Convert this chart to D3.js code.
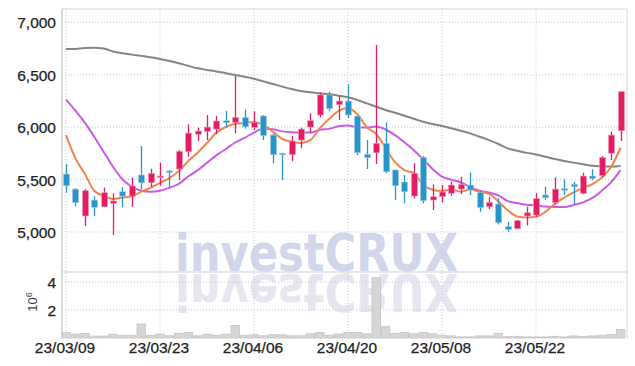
<!DOCTYPE html>
<html>
<head>
<meta charset="utf-8">
<script src="https://cdn.jsdelivr.net/npm/d3@7"></script>
<style>
  html, body { margin: 0; padding: 0; background: #fff; }
  svg { display: block; }
</style>
</head>
<body>
<svg id="chart" width="635" height="366"></svg>
<script>
const dates = ["23/03/09","23/03/10","23/03/13","23/03/14","23/03/15","23/03/16","23/03/17","23/03/20","23/03/21","23/03/22",
  "23/03/23","23/03/24","23/03/27","23/03/28","23/03/29","23/03/30","23/03/31","23/04/03","23/04/04","23/04/05",
  "23/04/06","23/04/07","23/04/10","23/04/11","23/04/12","23/04/13","23/04/14","23/04/17","23/04/18","23/04/19",
  "23/04/20","23/04/21","23/04/24","23/04/25","23/04/26","23/04/27","23/04/28","23/05/02","23/05/03","23/05/04",
  "23/05/08","23/05/09","23/05/10","23/05/11","23/05/12","23/05/15","23/05/16","23/05/17","23/05/18","23/05/19",
  "23/05/22","23/05/23","23/05/24","23/05/25","23/05/26","23/05/30","23/05/31","23/06/01","23/06/02","23/06/05"];
const openP = [5553,5410,5153,5305,5241,5272,5384,5343,5544,5470,5520,5582,5601,5766,5932,5957,5982,6062,6043,6094,
  5999,6106,5925,5751,5737,5877,6001,6116,6307,6214,6249,6106,5741,5756,5846,5592,5477,5343,5712,5305,
  5337,5369,5410,5448,5375,5241,5267,5051,5032,5153,5162,5353,5280,5413,5455,5369,5534,5537,5751,5966];
const highP = [5649,5417,5410,5343,5424,5369,5429,5518,5820,5604,5661,5591,5782,6027,5995,6116,6106,6154,6488,6170,
  6151,6116,5941,5756,5916,5995,6132,6332,6338,6294,6409,6106,5877,6784,6046,5592,5544,5655,5725,5455,
  5448,5480,5528,5566,5391,5337,5322,5098,5115,5241,5369,5432,5522,5503,5480,5566,5598,5725,5957,6345];
const lowP = [5375,5245,5057,5153,5236,4971,5238,5241,5407,5432,5442,5429,5496,5718,5868,5877,5932,5999,5941,5985,
  5973,5877,5655,5496,5677,5799,5947,6094,6151,6068,6087,5734,5601,5649,5560,5305,5274,5321,5274,5210,
  5283,5346,5363,5353,5194,5219,5073,5003,5026,5064,5146,5305,5267,5353,5267,5360,5496,5522,5687,5868];
const closeP = [5442,5280,5394,5236,5375,5296,5343,5439,5470,5560,5534,5572,5770,5944,5963,6001,6059,6043,6094,6004,
  6043,5919,5737,5737,5868,5982,6062,6307,6176,6249,6116,5756,5709,5846,5575,5442,5384,5560,5299,5337,
  5382,5448,5455,5401,5234,5283,5089,5026,5108,5184,5318,5327,5410,5401,5432,5534,5512,5712,5925,6338];
const maShort = [5925,5705,5555,5394,5345,5316,5329,5338,5385,5422,5469,5515,5581,5676,5757,5850,5947,6002,6032,6040,
  6049,6021,5959,5888,5861,5849,5877,5991,6079,6155,6182,6121,6001,5935,5800,5666,5591,5561,5452,5404,
  5392,5405,5384,5405,5384,5364,5292,5207,5148,5138,5145,5193,5269,5328,5378,5421,5458,5518,5623,5804];
const maMid = [6262,6157,6043,5909,5766,5623,5503,5432,5394,5384,5393,5422,5460,5530,5589,5660,5731,5792,5854,5898,
  5949,5984,5981,5960,5951,5949,5949,5975,5984,6008,6015,5999,5996,6007,5978,5924,5856,5781,5694,5602,
  5529,5498,5473,5428,5394,5378,5349,5295,5276,5261,5255,5243,5238,5238,5258,5283,5325,5394,5476,5591];
const maLong = [6745,6746,6755,6757,6750,6722,6705,6692,6680,6667,6651,6632,6610,6585,6562,6546,6532,6515,6498,6481,
  6462,6437,6412,6387,6364,6345,6332,6323,6313,6300,6285,6259,6227,6195,6164,6138,6109,6080,6052,6030,
  6011,5989,5966,5941,5909,5877,5840,5798,5775,5755,5740,5718,5696,5678,5662,5647,5633,5627,5624,5630];
const volumeM = [0.40,0.28,0.33,0.14,0.14,0.27,0.20,0.20,1.00,0.20,0.28,0.16,0.33,0.40,0.16,0.27,0.20,0.28,0.90,0.20,
  0.23,0.16,0.23,0.23,0.16,0.16,0.30,0.40,0.20,0.28,0.40,0.40,0.30,4.30,0.80,0.33,0.40,0.30,0.40,0.30,
  0.20,0.15,0.08,0.08,0.15,0.15,0.33,0.10,0.12,0.08,0.08,0.08,0.12,0.08,0.15,0.12,0.15,0.20,0.25,0.60];
const priceTicks = [5000,5500,6000,6500,7000];
const volumeTicks = [2,4];
const dateTicks = ["23/03/09","23/03/23","23/04/06","23/04/20","23/05/08","23/05/22"];

const svg = d3.select("#chart");
const L = 62, R = 627, T = 9, SPLIT = 272, B = 338;
const UP = "#e31c64", DOWN = "#2a93c9";
const GRID = "#c4c7dc";
const FONT = "'Liberation Sans Narrow', 'Liberation Sans', sans-serif";
const WMFONT = "'DejaVu Sans', Verdana, sans-serif";

const x = d3.scaleBand().domain(dates).range([61.3, 625.3]);
const step = x.step();
const cx = d => x(d) + step / 2;
const y = d3.scaleLinear().domain([4619, 7127]).range([SPLIT, T]);
const yv = d3.scaleLinear().domain([0, 4.714]).range([B, SPLIT]);

// watermark (with mirrored reflection)
const wm = svg.append("g");
wm.append("text").attr("x", 175).attr("y", 271)
  .attr("font-family", WMFONT).attr("font-weight", "bold")
  .attr("font-size", 51).attr("textLength", 283).attr("lengthAdjust", "spacingAndGlyphs")
  .attr("fill", "#d1d6ea").text("investCRUX");
wm.append("text").attr("x", 175).attr("y", -274)
  .attr("transform", "scale(1,-1)")
  .attr("font-family", WMFONT).attr("font-weight", "bold")
  .attr("font-size", 51).attr("textLength", 283).attr("lengthAdjust", "spacingAndGlyphs")
  .attr("fill", "#e5e6ef").text("investCRUX");

// grid lines
const grid = svg.append("g");
grid.selectAll("line.h").data(priceTicks).join("line")
  .attr("x1", L).attr("x2", R).attr("y1", d => y(d)).attr("y2", d => y(d))
  .attr("stroke", GRID).attr("stroke-dasharray", "1,2");
grid.selectAll("line.hv").data(volumeTicks).join("line")
  .attr("x1", L).attr("x2", R).attr("y1", d => yv(d)).attr("y2", d => yv(d))
  .attr("stroke", GRID).attr("stroke-dasharray", "1,2");
grid.selectAll("line.v").data(dateTicks).join("line")
  .attr("x1", d => cx(d)).attr("x2", d => cx(d)).attr("y1", T).attr("y2", B)
  .attr("stroke", GRID).attr("stroke-dasharray", "1,2");

// borders
svg.append("line").attr("x1", L).attr("x2", L).attr("y1", T).attr("y2", B).attr("stroke", "#cfcfcf").attr("stroke-width", 1.5);
svg.append("line").attr("x1", L).attr("x2", R).attr("y1", T).attr("y2", T).attr("stroke", "#d6d6d6");
svg.append("line").attr("x1", R).attr("x2", R).attr("y1", T).attr("y2", B).attr("stroke", "#d6d6d6");
svg.append("line").attr("x1", L).attr("x2", R).attr("y1", SPLIT).attr("y2", SPLIT).attr("stroke", "#cfcfcf");

// volume bars
svg.append("g").selectAll("rect").data(dates).join("rect")
  .attr("x", d => x(d) + 0.5).attr("width", step - 1)
  .attr("y", (d, i) => yv(volumeM[i])).attr("height", (d, i) => B - yv(volumeM[i]))
  .attr("fill", "#d6d6d6").attr("stroke", "#c4c4c4").attr("stroke-width", 0.8);

// moving averages
const lineGen = arr => d3.line().x((d, i) => cx(dates[i])).y(d => y(d)).curve(d3.curveMonotoneX)(arr);
svg.append("path").attr("d", lineGen(maLong)).attr("fill", "none").attr("stroke", "#858585").attr("stroke-width", 2);
svg.append("path").attr("d", lineGen(maMid)).attr("fill", "none").attr("stroke", "#cc5be9").attr("stroke-width", 2);
svg.append("path").attr("d", lineGen(maShort)).attr("fill", "none").attr("stroke", "#f0834f").attr("stroke-width", 2);

// candles
const bodyW = 6;
const cg = svg.append("g").selectAll("g").data(dates).join("g");
cg.append("line")
  .attr("x1", d => Math.round(cx(d)) + 0.5).attr("x2", d => Math.round(cx(d)) + 0.5)
  .attr("y1", (d, i) => y(highP[i])).attr("y2", (d, i) => y(lowP[i]))
  .attr("stroke", (d, i) => closeP[i] >= openP[i] ? UP : DOWN).attr("stroke-width", 1.3);
cg.append("rect")
  .attr("x", d => Math.round(cx(d)) + 0.5 - bodyW / 2).attr("width", bodyW)
  .attr("y", (d, i) => y(Math.max(openP[i], closeP[i])))
  .attr("height", (d, i) => Math.max(1.5, Math.abs(y(openP[i]) - y(closeP[i]))))
  .attr("fill", (d, i) => closeP[i] >= openP[i] ? UP : DOWN)
  .attr("stroke", (d, i) => closeP[i] >= openP[i] ? "#f29abb" : "#9fcbe4").attr("stroke-width", 0.6);

// axes
const yAxis = svg.append("g").attr("transform", `translate(56,0)`)
  .call(d3.axisLeft(y).tickValues(priceTicks).tickFormat(d3.format(",")).tickSize(0).tickPadding(0));
const vAxis = svg.append("g").attr("transform", `translate(56,0)`)
  .call(d3.axisLeft(yv).tickValues(volumeTicks).tickFormat(d3.format("d")).tickSize(0).tickPadding(0));
const xAxis = svg.append("g").attr("transform", `translate(0,341)`)
  .call(d3.axisBottom(x).tickValues(dateTicks).tickSize(0).tickPadding(0));
[yAxis, vAxis, xAxis].forEach(a => {
  a.select(".domain").remove();
  a.selectAll("text").attr("font-family", FONT).attr("fill", "#222").attr("stroke", "#222").attr("stroke-width", 0.25);
});
yAxis.selectAll("text").attr("font-size", 15.5).attr("dy", "0.36em");
vAxis.selectAll("text").attr("font-size", 15.5).attr("dy", "0.36em");
xAxis.selectAll("text").attr("font-size", 15.5).attr("dy", "0.8em").attr("dx", -1);

// 10^6 label
const exp = svg.append("text").attr("transform", "translate(37,302) rotate(-90)")
  .attr("text-anchor", "middle").attr("font-family", FONT).attr("font-size", 13).attr("fill", "#444");
exp.append("tspan").text("10");
exp.append("tspan").attr("dy", -5).attr("font-size", 9).text("6");
</script>
</body>
</html>
